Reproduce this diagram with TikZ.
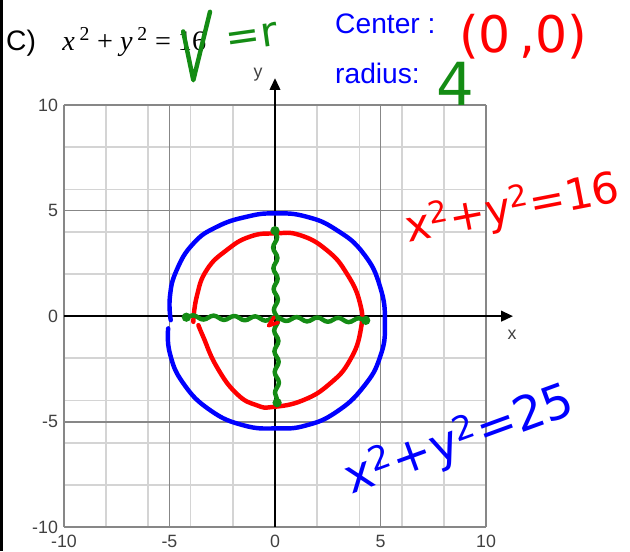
\documentclass[tikz,border=0pt]{standalone}
\usepackage{fontspec}
\setmainfont{Liberation Sans}
\newfontfamily\eqfont{Liberation Serif}
\newfontfamily\handfont{DejaVu Sans}
\usetikzlibrary{arrows.meta,decorations.pathmorphing}
\definecolor{penred}{RGB}{255,0,0}
\definecolor{penblue}{RGB}{0,0,255}
\definecolor{pengreen}{RGB}{20,140,20}
\definecolor{minorgrid}{RGB}{212,212,212}
\definecolor{majorgrid}{RGB}{135,135,135}
\definecolor{ticktext}{RGB}{64,64,64}
\begin{document}
\begin{tikzpicture}[x=0.5cm, y=0.5cm,
  pen/.style={line width=3pt, line cap=round, line join=round},
  wavy/.style={pen, pengreen, decorate, decoration={snake, amplitude=1.4pt, segment length=14pt}},
  hand/.style={inner sep=0pt, font=\handfont\fontsize{#1}{#1}\selectfont},
  ticklbl/.style={inner sep=1pt, text=ticktext, font=\fontsize{12}{13}\selectfont},
  label/.style={anchor=base west, inner sep=0pt, font=\fontsize{19}{22}\selectfont}]
  \useasboundingbox (-13.03,-11.14) rectangle (16.82,14.98);
  \fill (-13.03,-11.14) rectangle (-12.89,14.98);
  % grid and axes
  \draw[minorgrid, line width=1.2pt] (-10,-10) grid (10,10);
  \draw[majorgrid, line width=1.1pt, step=5] (-10,-10) grid (10,10);
  \coordinate (xstart) at (-10,0);
  \coordinate (xend) at (11.28,0);
  \coordinate (ystart) at (0,-10);
  \coordinate (yend) at (0,11.28);
  \draw[line width=1.6pt, -{Triangle[length=8pt,width=7pt]}] (xstart) -- (xend);
  \draw[line width=1.6pt, -{Triangle[length=8pt,width=7pt]}] (ystart) -- (yend);
  \node[ticklbl] (xname) at (11.23,-0.9) {x};
  \node[ticklbl] (yname) at (-0.8,11.42) {y};
  \foreach \v [count=\i] in {-10,-5,0,5,10} {
    \node[ticklbl, anchor=east] (yl\i) at (-10.2,\v) {\v};
    \node[ticklbl, anchor=base] (xl\i) at (\v,-10.95) {\v};
  }
  % printed text
  \node[label] (part) at (-12.75,12.6) {C)};
  \node[label, font=\eqfont\fontsize{19}{22}\selectfont] (eqn) at (-10.09,12.61)
    {\textit{x}\,\textsuperscript{2} + \textit{y}\,\textsuperscript{2} = 16};
  \node[label, text=penblue] (center) at (2.84,13.41) {Center :};
  \node[label, text=penblue] (radius) at (2.84,11.04) {radius:};
  % handwriting
  \coordinate (rt1) at (-4.35,13.49);
  \coordinate (rt2) at (-3.87,11.18);
  \coordinate (rt3) at (-3.08,14.42);
  \draw[pen, pengreen] (rt1) -- (rt2) -- (rt3);
  \node[hand=28, text=pengreen, rotate=8] (eqr) at (-1.1,13.2) {=r};
  \node[hand=34, text=penred] (cval) at (11.75,13.22) {(0\,,0)};
  \node[hand=40, text=pengreen] (rval) at (8.53,11.0) {4};
  \node[hand=29, text=penred, rotate=11] (eq16) at (11.25,5.1)
    {x\textsuperscript{2}+y\textsuperscript{2}=16};
  \node[hand=32, text=penblue, rotate=20] (eq25) at (8.75,-5.9)
    {x\textsuperscript{2}+y\textsuperscript{2}=25};
  % circles
  \draw[pen, penblue] plot[smooth, tension=0.8] coordinates {
    (-4.94,-0.19) (-4.98,0.92) (-4.66,2.18) (-3.87,3.44) (-2.76,4.23)
    (-1.34,4.71) (0,4.87) (1.50,4.71) (2.92,4.08) (4.19,2.97) (4.98,1.39)
    (5.21,-0.35) (4.98,-1.93) (4.19,-3.35) (2.92,-4.53) (1.50,-5.17)
    (0.08,-5.32) (-1.50,-5.17) (-3.08,-4.45) (-4.34,-3.19) (-4.98,-1.77)
    (-5.06,-0.58)};
  \draw[pen, penred] plot[smooth, tension=0.8] coordinates {
    (-3.87,-0.27) (-3.71,0.92) (-3.24,2.18) (-2.29,3.13) (-1.18,3.77)
    (0,3.92) (1.18,3.84) (2.45,3.13) (3.40,2.02) (4.03,0.60) (4.06,-0.66)
    (3.55,-2.09) (2.61,-3.19) (1.34,-3.98) (-0.08,-4.30) (-0.87,-4.22)
    (-1.82,-3.67) (-2.76,-2.40) (-3.40,-0.98) (-3.63,-0.43)};
  % radii
  \coordinate (gl) at (-4.2,-0.05);
  \coordinate (gr) at (4.3,-0.2);
  \coordinate (gt) at (0,4.05);
  \coordinate (gb) at (0.1,-4.1);
  \draw[wavy] (gl) -- (gr);
  \draw[wavy] (gt) -- (gb);
  \foreach \e in {gl,gr,gt,gb} \fill[pengreen] (\e) circle (0.22);
  \draw[pen, penred, line width=2.5pt] (-0.05,-0.05) -- (-0.3,-0.45) -- (0.15,-0.3);
\end{tikzpicture}
\end{document}
